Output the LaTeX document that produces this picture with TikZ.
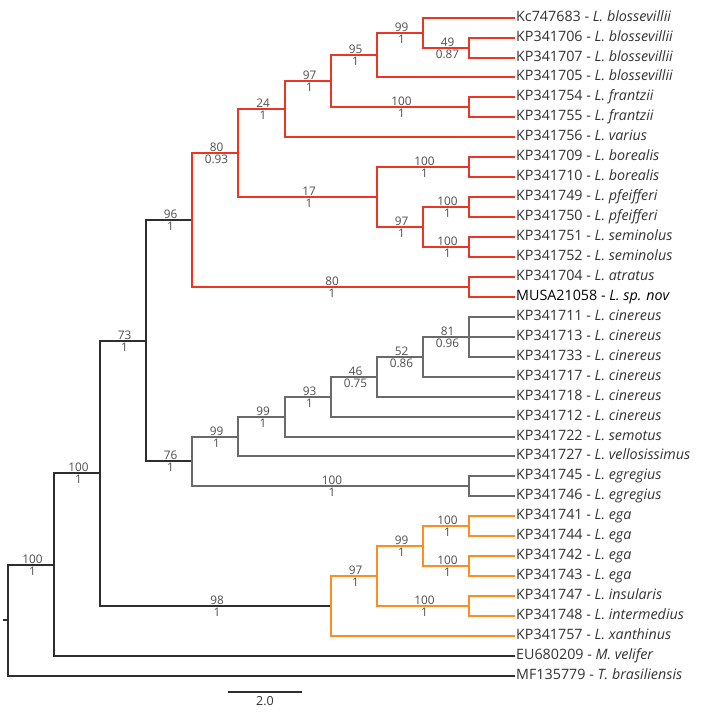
\documentclass[tikz,border=0pt]{standalone}
\usepackage{fontspec}
\setmainfont{Open Sans}
\definecolor{cBk}{HTML}{2E2E2E}
\definecolor{cGy}{HTML}{6A6A6A}
\definecolor{cRd}{HTML}{EE3524}
\definecolor{cOg}{HTML}{FF8C1E}
\definecolor{cTx}{HTML}{333333}
\definecolor{cBs}{HTML}{4F4F4F}
\newcommand\ptk[3]{\coordinate (#1) at ({round(8+46.09*#2)},{round(17.6+19.95*#3)});}
\newcommand\clade[5]{%
  \draw[#3] (#1) |- (#2);
  \path (#1 |- #2) -- (#2) node[bsu,pos=0.5] (u#2) {#4} node[bsd,pos=0.5] (d#2) {#5};
}
\newcommand\leaf[6][]{%
  \coordinate (L#3) at (515,{round(17.6+19.95*#3)});
  \draw[#4] (#2) |- (L#3);
  \node[lf,#1] (T#3) at (L#3) {#5 - \textit{#6}};
}
\begin{document}
\begin{tikzpicture}[x=1pt,y=-1pt,line join=miter,
  bk/.style={draw=cBk,line width=1.7pt},
  gy/.style={draw=cGy,line width=1.7pt},
  rd/.style={draw=cRd,line width=1.7pt},
  og/.style={draw=cOg,line width=1.7pt},
  lf/.style={anchor=base west,inner xsep=1pt,inner ysep=0pt,yshift=-3pt,text=cTx,font=\fontsize{14.3}{16}\selectfont},
  bsu/.style={anchor=base,inner sep=0pt,yshift=2pt,xshift=1.5pt,text=cBs,font=\fontsize{11.8}{13}\selectfont},
  bsd/.style={anchor=base,inner sep=0pt,yshift=-10.5pt,xshift=1.5pt,text=cBs,font=\fontsize{11.8}{13}\selectfont}]
\fill[white] (0,0) rectangle (710,712);
\useasboundingbox (0,0) rectangle (710,712);
\ptk{nRoot}{0}{30.2124}
\ptk{nA}{1}{27.4248}
\ptk{nB}{2}{22.8496}
\ptk{nC}{3}{16.1992}
\ptk{nD}{7}{29.5}
\ptk{nE}{4}{10.1484}
\ptk{nF}{4}{22.25}
\ptk{nG}{5}{6.796875}
\ptk{nH}{10}{13.5}
\ptk{nI}{6}{4.59375}
\ptk{nJ}{8}{9}
\ptk{nK}{7}{3.1875}
\ptk{nL}{8}{1.875}
\ptk{nM}{10}{4.5}
\ptk{nN}{9}{0.75}
\ptk{nO}{10}{1.5}
\ptk{nP}{10}{7.5}
\ptk{nQ}{9}{10.5}
\ptk{nR}{10}{9.5}
\ptk{nS}{10}{11.5}
\ptk{nT}{5}{21}
\ptk{nU}{10}{23.5}
\ptk{nV}{6}{20}
\ptk{nW}{7}{19}
\ptk{nX}{8}{18}
\ptk{nY}{9}{17}
\ptk{nZ}{10}{16}
\ptk{nAA}{8}{28}
\ptk{nBB}{9}{26.5}
\ptk{nCC}{10}{29.5}
\ptk{nDD}{10}{25.5}
\ptk{nEE}{10}{27.5}
% internal branches
\clade{nRoot}{nA}{bk}{100}{1}
\clade{nA}{nB}{bk}{100}{1}
\clade{nB}{nC}{bk}{73}{1}
\clade{nB}{nD}{bk}{98}{1}
\clade{nC}{nE}{bk}{96}{1}
\clade{nC}{nF}{bk}{76}{1}
\clade{nE}{nG}{rd}{80}{0.93}
\clade{nE}{nH}{rd}{80}{1}
\clade{nG}{nI}{rd}{24}{1}
\clade{nG}{nJ}{rd}{17}{1}
\clade{nI}{nK}{rd}{97}{1}
\clade{nK}{nL}{rd}{95}{1}
\clade{nK}{nM}{rd}{100}{1}
\clade{nL}{nN}{rd}{99}{1}
\clade{nN}{nO}{rd}{49}{0.87}
\clade{nJ}{nP}{rd}{100}{1}
\clade{nJ}{nQ}{rd}{97}{1}
\clade{nQ}{nR}{rd}{100}{1}
\clade{nQ}{nS}{rd}{100}{1}
\clade{nF}{nT}{gy}{99}{1}
\clade{nF}{nU}{gy}{100}{1}
\clade{nT}{nV}{gy}{99}{1}
\clade{nV}{nW}{gy}{93}{1}
\clade{nW}{nX}{gy}{46}{0.75}
\clade{nX}{nY}{gy}{52}{0.86}
\clade{nY}{nZ}{gy}{81}{0.96}
\clade{nD}{nAA}{og}{97}{1}
\clade{nAA}{nBB}{og}{99}{1}
\clade{nAA}{nCC}{og}{100}{1}
\clade{nBB}{nDD}{og}{100}{1}
\clade{nBB}{nEE}{og}{100}{1}
% leaves
\leaf{nN}{0}{rd}{Kc747683}{L. blossevillii}
\leaf{nO}{1}{rd}{KP341706}{L. blossevillii}
\leaf{nO}{2}{rd}{KP341707}{L. blossevillii}
\leaf{nL}{3}{rd}{KP341705}{L. blossevillii}
\leaf{nM}{4}{rd}{KP341754}{L. frantzii}
\leaf{nM}{5}{rd}{KP341755}{L. frantzii}
\leaf{nI}{6}{rd}{KP341756}{L. varius}
\leaf{nP}{7}{rd}{KP341709}{L. borealis}
\leaf{nP}{8}{rd}{KP341710}{L. borealis}
\leaf{nR}{9}{rd}{KP341749}{L. pfeifferi}
\leaf{nR}{10}{rd}{KP341750}{L. pfeifferi}
\leaf{nS}{11}{rd}{KP341751}{L. seminolus}
\leaf{nS}{12}{rd}{KP341752}{L. seminolus}
\leaf{nH}{13}{rd}{KP341704}{L. atratus}
\leaf[text=black]{nH}{14}{rd}{MUSA21058}{L. sp. nov}
\leaf{nZ}{15}{gy}{KP341711}{L. cinereus}
\leaf{nZ}{16}{gy}{KP341713}{L. cinereus}
\leaf{nZ}{17}{gy}{KP341733}{L. cinereus}
\leaf{nY}{18}{gy}{KP341717}{L. cinereus}
\leaf{nX}{19}{gy}{KP341718}{L. cinereus}
\leaf{nW}{20}{gy}{KP341712}{L. cinereus}
\leaf{nV}{21}{gy}{KP341722}{L. semotus}
\leaf{nT}{22}{gy}{KP341727}{L. vellosissimus}
\leaf{nU}{23}{gy}{KP341745}{L. egregius}
\leaf{nU}{24}{gy}{KP341746}{L. egregius}
\leaf{nDD}{25}{og}{KP341741}{L. ega}
\leaf{nDD}{26}{og}{KP341744}{L. ega}
\leaf{nEE}{27}{og}{KP341742}{L. ega}
\leaf{nEE}{28}{og}{KP341743}{L. ega}
\leaf{nCC}{29}{og}{KP341747}{L. insularis}
\leaf{nCC}{30}{og}{KP341748}{L. intermedius}
\leaf{nD}{31}{og}{KP341757}{L. xanthinus}
\leaf{nA}{32}{bk}{EU680209}{M. velifer}
\leaf{nRoot}{33}{bk}{MF135779}{T. brasiliensis}
% root tick
\coordinate (rt) at (3,{round(17.6+19.95*30.2124)});
\draw[bk] (rt) -- (nRoot);
% scale bar
\coordinate (sb1) at (228,692);
\coordinate (sb2) at (302,692);
\draw[bk] (sb1) -- (sb2) node[midway,anchor=base,inner sep=0pt,yshift=-13pt,text=cTx,font=\fontsize{12.5}{13}\selectfont] (sbl) {2.0};
\end{tikzpicture}
\end{document}
